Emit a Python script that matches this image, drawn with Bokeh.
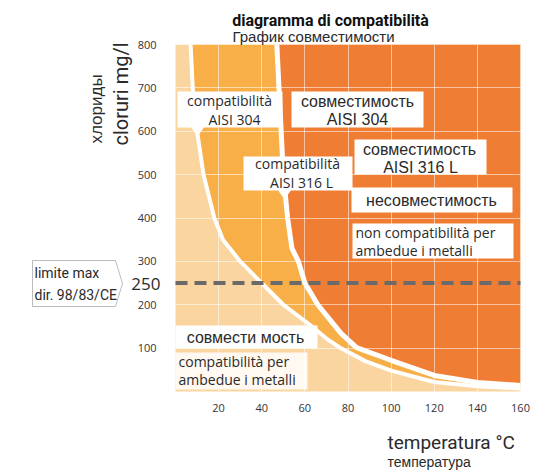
from math import pi
from bokeh.plotting import figure
from bokeh.models import Label, BoxAnnotation, PolyAnnotation, FixedTicker
from bokeh.embed import file_html
from bokeh.resources import INLINE

# ---- data ----
TEMP_TICKS = [20, 40, 60, 80, 100, 120, 140, 160]
CHLORIDE_TICKS = [100, 200, 300, 400, 500, 600, 700, 800]
LIMIT = 250

# boundary of AISI 304 compatibility (temperature °C, chlorides mg/l)
AISI304_T = [7, 8, 10, 13, 18, 22, 26, 30, 40, 50, 62, 70, 77, 88, 100, 120, 140, 160]
AISI304_C = [800, 700, 600, 500, 400, 350, 325, 300, 250, 200, 155, 122, 99, 70, 48, 22, 12, 7]

# boundary of AISI 316 L compatibility
AISI316L_T = [47, 48, 49, 50, 52, 54, 57, 60, 66, 73, 77, 84, 100, 120, 140, 160]
AISI316L_C = [800, 700, 600, 500, 400, 330, 300, 250, 200, 157, 133, 101, 72, 37, 21, 14]

X_MIN, X_MAX = 0, 160
Y_MIN, Y_MAX = 0, 800

PEACH = "#FBD59F"
MID = "#F8AF48"
DARK = "#EF7D33"
TXT = "#2a2a2a"

W, H = 545, 471
FL, FT, FR, FB = 175, 44, 520, 391   # plot-area edges in page pixels


def dx(px):
    return (px - FL) * (X_MAX - X_MIN) / (FR - FL) + X_MIN


def dy(py):
    return (FB - py) * (Y_MAX - Y_MIN) / (FB - FT) + Y_MIN


p = figure(width=W, height=H, x_range=(dx(0), dx(W)), y_range=(dy(H), dy(0)),
           output_backend="svg", toolbar_location=None, title=None, min_border=0)
p.background_fill_color = "white"
p.border_fill_color = "white"
p.outline_line_color = None

# axes drawn along the plot-area edges
p.xaxis.fixed_location = Y_MIN
p.yaxis.fixed_location = X_MIN
p.xaxis.ticker = FixedTicker(ticks=TEMP_TICKS)
p.yaxis.ticker = FixedTicker(ticks=CHLORIDE_TICKS)
for ax in (p.xaxis[0], p.yaxis[0]):
    ax.axis_line_color = None
    ax.major_tick_line_color = None
    ax.minor_tick_line_color = None
    ax.major_label_text_font = "Open Sans"
    ax.major_label_text_font_size = "11px"
    ax.major_label_text_color = "#333333"
p.yaxis.major_label_standoff = 13
p.xaxis.major_label_standoff = 6

# plot area background
p.quad(left=X_MIN, right=X_MAX, bottom=Y_MIN, top=Y_MAX, fill_color=PEACH, line_color=None)

# regions
p.harea(x1=AISI304_T, x2=X_MAX, y=AISI304_C, fill_color=MID, fill_alpha=1)
p.harea(x1=AISI316L_T, x2=X_MAX, y=AISI316L_C, fill_color=DARK, fill_alpha=1)
p.line(AISI304_T, AISI304_C, line_color="white", line_width=4)
p.line(AISI316L_T, AISI316L_C, line_color="white", line_width=5)

# grid over the plot area only
p.xgrid.ticker = FixedTicker(ticks=TEMP_TICKS)
p.ygrid.ticker = FixedTicker(ticks=CHLORIDE_TICKS)
try:
    p.xgrid.cross_bounds = (Y_MIN, Y_MAX)
    p.ygrid.cross_bounds = (X_MIN, X_MAX)
    for g in (p.xgrid[0], p.ygrid[0]):
        g.grid_line_color = "white"
        g.grid_line_alpha = 0.55
        g.grid_line_width = 1
        g.level = "guide"
except Exception:
    p.xgrid.visible = False
    p.ygrid.visible = False
    p.segment(x0=TEMP_TICKS, x1=TEMP_TICKS, y0=Y_MIN, y1=Y_MAX, line_color="white",
              line_alpha=0.55, line_width=1)
    p.segment(x0=X_MIN, x1=X_MAX, y0=CHLORIDE_TICKS, y1=CHLORIDE_TICKS, line_color="white",
              line_alpha=0.55, line_width=1)

# legal limit line
p.segment(x0=X_MIN, x1=X_MAX, y0=LIMIT, y1=LIMIT, line_color="#6a6a6a", line_width=4,
          line_dash="12 7", level="annotation")


def box(l, t, r, b, alpha=1.0):
    p.add_layout(BoxAnnotation(left=dx(l), right=dx(r), top=dy(t), bottom=dy(b),
                               fill_color="white", fill_alpha=alpha, line_color=None))


def poly(pts, line=None):
    p.add_layout(PolyAnnotation(xs=[dx(a) for a, _ in pts], ys=[dy(b) for _, b in pts],
                                fill_color="white", fill_alpha=1, line_color=line,
                                line_width=1))


def lab(text, px, py, font, size, align="center", style="normal", angle=0.0, color=TXT):
    p.add_layout(Label(x=dx(px), y=dy(py), text=text, text_font=font,
                       text_font_size=size, text_align=align, text_baseline="middle",
                       text_color=color, text_font_style=style, angle=angle))


IT = "Open Sans"
RU = "Liberation Sans"
NARROW = "Roboto"

# boxes
box(177, 91, 282, 127)
box(291, 91, 423, 127)
box(243, 156, 352, 190)
box(354, 139, 486, 174)
box(351, 187, 512, 212)
box(352, 223, 513, 258)
box(175, 325, 317, 348)
box(175, 352, 307, 389, alpha=0.85)
poly([(190, 126), (204, 126), (197, 136)])
poly([(277, 189), (291, 189), (284, 199)])

lab("compatibilità", 229, 100, IT, "14px")
lab("AISI 304", 234, 119, IT, "14px")
lab("совместимость", 357, 101, RU, "16px")
lab("AISI 304", 357, 119, RU, "16px")
lab("compatibilità", 297, 163, IT, "14px")
lab("AISI 316 L", 301, 182, IT, "14px")
lab("совместимость", 419, 149, RU, "16px")
lab("AISI 316 L", 420, 167, RU, "16px")
lab("несовместимость", 431, 200, RU, "16px")
lab("non compatibilità  per", 355, 232, IT, "14px", align="left")
lab("ambedue  i metalli", 355, 250, IT, "14px", align="left")
lab("совмести мость", 245, 337, RU, "16px")
lab("compatibilità  per", 178, 361, IT, "14px", align="left")
lab("ambedue  i metalli", 178, 379, IT, "14px", align="left")

# texts around the plot area
lab("diagramma di compatibilità", 330, 20, NARROW, "16px", style="bold", color="#111111")
lab("График совместимости", 232, 36, RU, "15px", align="left")
lab("cloruri mg/l", 120, 145, NARROW, "20px", align="left", angle=pi / 2)
lab("хлориды", 96, 143, RU, "17px", align="left", angle=pi / 2)
lab("temperatura °C", 387, 442, NARROW, "19px", align="left")
lab("температура", 387, 461, RU, "14px", align="left")
lab("250", 160, 283, IT, "17px", align="right")

# limit tag
poly([(32, 260), (115, 260), (122, 283), (115, 306), (32, 306)], line="#222222")
lab("limite max", 34, 272, NARROW, "14px", align="left")
lab("dir. 98/83/CE", 34, 294, NARROW, "14px", align="left")

open("out.html", "w").write(file_html(p, INLINE))
